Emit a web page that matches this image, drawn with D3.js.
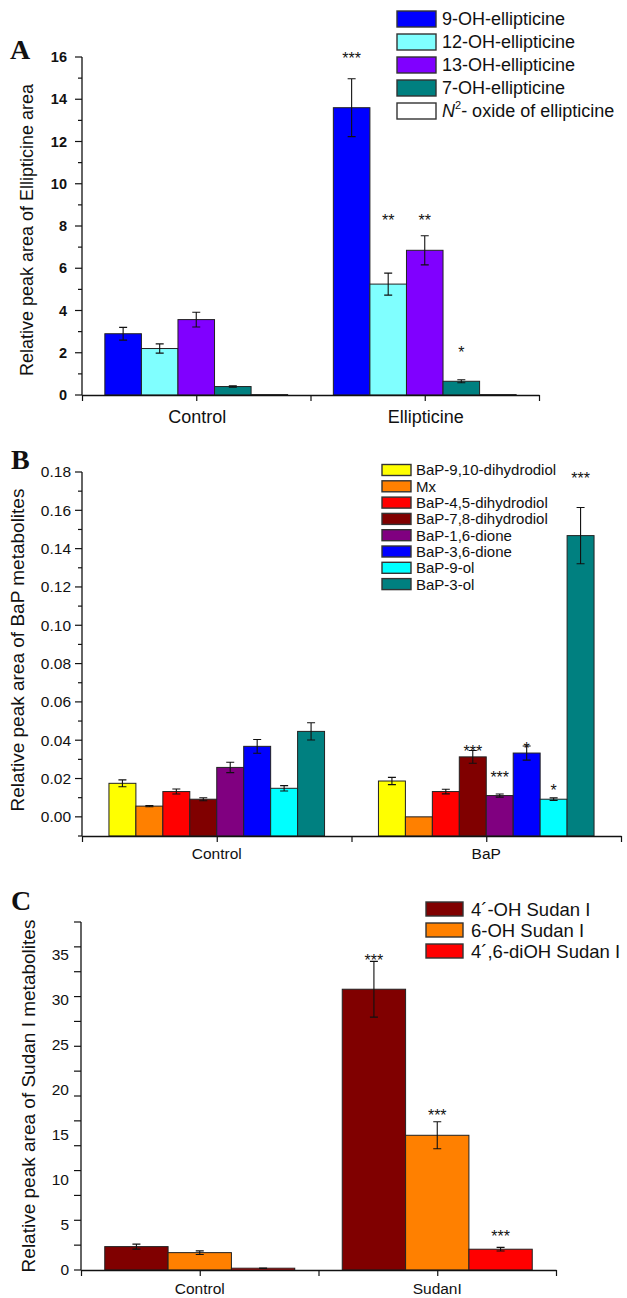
<!DOCTYPE html>
<html>
<head>
<meta charset="utf-8">
<script src="https://cdn.jsdelivr.net/npm/d3@7"></script>
<style>
  body { margin: 0; background: #fff; }
  text { font-family: Arial, "Liberation Sans", sans-serif; fill: #111; }
</style>
</head>
<body>
<div id="chart"></div>
<script>
// ---- panel A : ellipticine ----
var ellGroups = ['Control', 'Ellipticine'];
var ellSeries = ['9-OH-ellipticine', '12-OH-ellipticine', '13-OH-ellipticine', '7-OH-ellipticine', 'N2- oxide of ellipticine'];
var ellValues = [[2.9, 2.2, 3.57, 0.4, 0.02], [13.6, 5.25, 6.85, 0.65, 0.02]];
var ellErrors = [[0.3, 0.22, 0.35, 0.03, 0], [1.37, 0.52, 0.69, 0.07, 0]];
var ellStars = [['', '', '', '', ''], ['***', '**', '**', '*', '']];
var ellStarAt = [[0, 0, 0, 0, 0], [16.1, 8.43, 8.43, 2.18, 0]];
var ellTicks = [0, 2, 4, 6, 8, 10, 12, 14, 16];

// ---- panel B : BaP ----
var bapGroups = ['Control', 'BaP'];
var bapSeries = ['BaP-9,10-dihydrodiol', 'Mx', 'BaP-4,5-dihydrodiol', 'BaP-7,8-dihydrodiol',
                 'BaP-1,6-dione', 'BaP-3,6-dione', 'BaP-9-ol', 'BaP-3-ol'];
var bapValues = [[0.0175, 0.0056, 0.0132, 0.0092, 0.0258, 0.0368, 0.0149, 0.0446],
                 [0.0187, 0.0, 0.0132, 0.0313, 0.0111, 0.0333, 0.0092, 0.1468]];
var bapErrors = [[0.0018, 0.0003, 0.0013, 0.0008, 0.0027, 0.0036, 0.0014, 0.0045],
                 [0.0019, 0, 0.0012, 0.0033, 0.0008, 0.0037, 0.0007, 0.0147]];
var bapStars = [['', '', '', '', '', '', '', ''], ['', '', '', '***', '***', '*', '*', '***']];
var bapStarAt = [[0, 0, 0, 0, 0, 0, 0, 0], [0, 0, 0, 0.0359, 0.0224, 0.0375, 0.0156, 0.1785]];
var bapTicks = [0, 0.02, 0.04, 0.06, 0.08, 0.10, 0.12, 0.14, 0.16, 0.18];

// ---- panel C : Sudan I ----
var sudGroups = ['Control', 'SudanI'];
var sudSeries = ['4\u00b4-OH Sudan I', '6-OH Sudan I', '4\u00b4,6-diOH Sudan I'];
var sudValues = [[2.6, 1.93, 0.2], [31.2, 14.97, 2.31]];
var sudErrors = [[0.28, 0.2, 0.02], [3.1, 1.5, 0.2]];
var sudStars = [['', '', ''], ['***', '***', '***']];
var sudStarAt = [[0, 0, 0], [34.8, 17.56, 4.1]];
var sudTicks = [0, 5, 10, 15, 20, 25, 30, 35];

var svg = d3.select('#chart').append('svg')
  .attr('width', 627)
  .attr('height', 1298);

function panel(o) {
  var g = svg.append('g');

  var x = d3.scaleLinear().domain([0.5, o.groups.length + 0.5]).range([o.left, o.right]);
  var y = d3.scaleLinear().domain(o.yDomain).range([o.bottom, o.top]);
  var inner = d3.scaleBand()
    .domain(d3.range(o.series.length))
    .range([0, x(1.4) - x(0.6)]);

  // bars
  o.values.forEach(function (vals, gi) {
    var x0 = x(gi + 1 - 0.4);
    var bg = g.append('g');
    bg.selectAll('rect')
      .data(vals)
      .enter()
      .append('rect')
      .attr('x', (d, i) => x0 + inner(i))
      .attr('y', (d) => y(d))
      .attr('width', inner.bandwidth())
      .attr('height', (d) => y(o.yDomain[0]) - y(d))
      .attr('fill', (d, i) => o.colors[i])
      .attr('stroke', '#222')
      .attr('stroke-width', 1);

    // error bars
    vals.forEach(function (v, i) {
      var e = o.errors[gi][i];
      if (!e) return;
      var cx = x0 + inner(i) + inner.bandwidth() / 2;
      bg.append('path')
        .attr('d', 'M' + cx + ',' + y(v - e) + 'V' + y(v + e) +
                   'M' + (cx - 4) + ',' + y(v + e) + 'H' + (cx + 4) +
                   'M' + (cx - 4) + ',' + y(v - e) + 'H' + (cx + 4))
        .attr('stroke', '#111')
        .attr('stroke-width', 1.1)
        .attr('fill', 'none');
    });

    // significance stars
    vals.forEach(function (v, i) {
      var s = o.stars[gi][i];
      if (!s) return;
      bg.append('text')
        .attr('x', x0 + inner(i) + inner.bandwidth() / 2)
        .attr('y', y(o.starAt[gi][i]) + 9)
        .attr('text-anchor', 'middle')
        .style('font-size', '16px')
        .text(s);
    });
  });

  // x axis
  var xAxis = d3.axisBottom(x)
    .tickValues(d3.range(0.5, o.groups.length + 0.6, 0.5))
    .tickFormat(() => '')
    .tickSize(6)
    .tickSizeOuter(0);
  var xg = g.append('g')
    .attr('transform', 'translate(0,' + o.bottom + ')')
    .call(xAxis);
  xg.select('.domain').attr('stroke', '#111').attr('stroke-width', 1.3);
  xg.selectAll('.tick line').attr('stroke', '#111').attr('stroke-width', 1.2);

  g.selectAll('.xlbl')
    .data(o.groups)
    .enter()
    .append('text')
    .attr('class', 'xlbl')
    .attr('x', (d, i) => x(i + 1) + o.xLabelShift)
    .attr('y', o.xLabelY)
    .attr('text-anchor', 'middle')
    .style('font-size', o.xLabelSize + 'px')
    .text((d) => d);

  // y axis: line, minor + major ticks
  var tickSrc = o.tickScale || y;
  var yg = g.append('g').attr('transform', 'translate(' + o.left + ',0)');
  yg.append('line')
    .attr('y1', o.bottom).attr('y2', o.top)
    .attr('stroke', '#111').attr('stroke-width', 1.3);
  yg.selectAll('.mt')
    .data(o.tickMarks)
    .enter()
    .append('line')
    .attr('class', 'mt')
    .attr('x1', (d) => d.major ? -7 : -4)
    .attr('x2', 0)
    .attr('y1', (d) => tickSrc(d.v))
    .attr('y2', (d) => tickSrc(d.v))
    .attr('stroke', '#111')
    .attr('stroke-width', 1.2);

  var yAxis = d3.axisLeft(y)
    .tickValues(o.ticks)
    .tickFormat(o.tickFormat)
    .tickSize(0)
    .tickPadding(o.tickPad);
  var ya = g.append('g')
    .attr('transform', 'translate(' + o.left + ',0)')
    .call(yAxis);
  ya.select('.domain').remove();
  ya.selectAll('text')
    .style('font-size', o.tickSize + 'px')
    .style('font-weight', o.tickBold ? 'bold' : 'normal')
    .style('font-family', 'Arial, "Liberation Sans", sans-serif')
    .attr('fill', '#111');

  // y title
  g.append('text')
    .attr('transform', 'translate(' + o.titleX + ',' + o.titleY + ') rotate(-90)')
    .attr('text-anchor', 'middle')
    .style('font-size', o.titleSize + 'px')
    .text(o.title);

  // panel letter
  g.append('text')
    .attr('x', o.letterX)
    .attr('y', o.letterY)
    .style('font-family', '"Liberation Serif", "Times New Roman", serif')
    .style('font-weight', 'bold')
    .style('font-size', '28px')
    .text(o.letter);

  // legend
  var lg = g.append('g');
  o.series.forEach(function (s, i) {
    var cy = o.legend.y + i * o.legend.step;
    lg.append('rect')
      .attr('x', o.legend.x)
      .attr('y', cy - o.legend.h / 2)
      .attr('width', o.legend.w)
      .attr('height', o.legend.h)
      .attr('fill', o.colors[i])
      .attr('stroke', '#333')
      .attr('stroke-width', 1.4);
    var t = lg.append('text')
      .attr('x', o.legend.x + o.legend.w + o.legend.gap)
      .attr('y', cy + o.legend.size * 0.36)
      .style('font-size', o.legend.size + 'px');
    if (s.indexOf('N2') === 0) {
      t.append('tspan').style('font-style', 'italic').text('N');
      t.append('tspan').attr('dy', -8).style('font-size', '11px').text('2');
      t.append('tspan').attr('dy', 8).text(s.slice(2));
    } else {
      t.text(s);
    }
  });
}

function minorMarks(lo, hi, step) {
  return d3.range(0, Math.round((hi - lo) / step) + 1).map(function (k) {
    return { v: lo + k * step, major: k % 2 === 0 };
  });
}

panel({
  letter: 'A', letterX: 10, letterY: 59,
  groups: ellGroups, series: ellSeries, values: ellValues, errors: ellErrors,
  stars: ellStars, starAt: ellStarAt,
  colors: ['#0000ff', '#80ffff', '#8000ff', '#008080', '#ffffff'],
  left: 82, right: 539, top: 57, bottom: 395, yDomain: [0, 16],
  ticks: ellTicks, tickFormat: d3.format('d'), tickBold: true, tickSize: 14.5, tickPad: 15,
  tickMarks: minorMarks(0, 16, 1),
  xLabelY: 423, xLabelSize: 18, xLabelShift: 1,
  title: 'Relative peak area of Ellipticine area', titleX: 33, titleY: 230, titleSize: 18,
  legend: { x: 397, y: 19, step: 23, w: 39, h: 16, gap: 6, size: 18 }
});

panel({
  letter: 'B', letterX: 11, letterY: 469,
  groups: bapGroups, series: bapSeries, values: bapValues, errors: bapErrors,
  stars: bapStars, starAt: bapStarAt,
  colors: ['#ffff00', '#ff8000', '#ff0000', '#800000', '#800080', '#0000ff', '#00ffff', '#008080'],
  left: 82, right: 621, top: 472, bottom: 836, yDomain: [-0.01, 0.18],
  ticks: bapTicks, tickFormat: d3.format('.2f'), tickBold: false, tickSize: 15.5, tickPad: 11,
  tickMarks: minorMarks(-0.01, 0.18, 0.01).map((d) => ({ v: d.v, major: !d.major })),
  xLabelY: 859, xLabelSize: 15.5, xLabelShift: 0,
  title: 'Relative peak area of BaP metabolites', titleX: 24, titleY: 650, titleSize: 19,
  legend: { x: 382, y: 470, step: 16.3, w: 29, h: 11, gap: 5, size: 15 }
});

// panel C: tick marks follow the original 2.5-step grid, labels follow the data scale
var sudTickScale = d3.scaleLinear().domain([0, 35]).range([1270, 922]);
panel({
  letter: 'C', letterX: 11, letterY: 910,
  groups: sudGroups, series: sudSeries, values: sudValues, errors: sudErrors,
  stars: sudStars, starAt: sudStarAt,
  colors: ['#800000', '#ff8000', '#ff0000'],
  left: 81, right: 556, top: 922, bottom: 1270, yDomain: [0, 38.67],
  ticks: sudTicks, tickFormat: d3.format('d'), tickBold: false, tickSize: 15.5, tickPad: 12,
  tickScale: sudTickScale,
  tickMarks: d3.range(0, 35.1, 2.5).map((v) => ({ v: v, major: true })),
  xLabelY: 1294, xLabelSize: 15.5, xLabelShift: 0,
  title: 'Relative peak area of Sudan I metabolites', titleX: 35, titleY: 1096, titleSize: 19,
  legend: { x: 426, y: 909, step: 21, w: 37, h: 14, gap: 8, size: 18.5 }
});
</script>
</body>
</html>
